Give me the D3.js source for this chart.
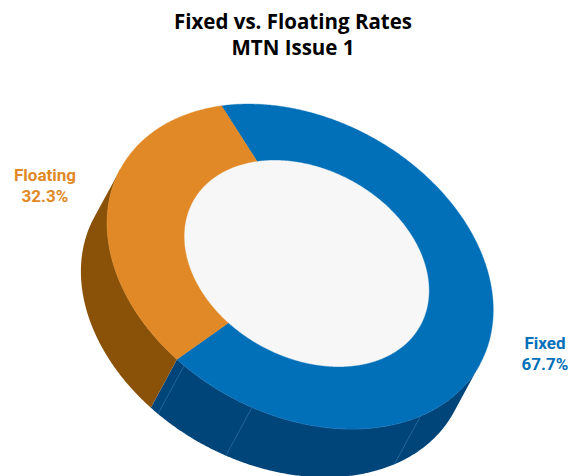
<!DOCTYPE html>
<html>
<head>
<meta charset="utf-8">
<script src="https://cdn.jsdelivr.net/npm/d3@7"></script>
<style>
  html, body { margin: 0; padding: 0; background: #ffffff; }
  svg { display: block; }
</style>
</head>
<body>
<svg id="chart" width="571" height="476"></svg>
<script>
// Share of MTN Issue 1 by rate type
const categories = ["Fixed", "Floating"];
const shares = [67.7, 32.3];
const shareLabels = ["67.7%", "32.3%"];
const titleLines = ["Fixed vs. Floating Rates", "MTN Issue 1"];

const topColors = ["#0270b8", "#e08926"];
const sideColors = ["#00457a", "#8a5208"];
const seamColors = ["#3f82bd", "#b97a2c"];

const svg = d3.select("#chart");

// Tilted donut: outer and inner rim ellipses (screen space), rim rotation and wall depth
const deg = Math.PI / 180;
const rot = 28.5 * deg;
const cosR = Math.cos(rot), sinR = Math.sin(rot);
const outerRing = { cx: 300.2, cy: 266.5, a: 204.5, b: 147.8 };
const innerRing = { cx: 306.7, cy: 263.5, a: 129.7, b: 94.4 };
const depth = 55;
const ext = [-depth * sinR, depth * cosR];
const startAngle = 224.5 * deg;

function pt(ring, phi, dz) {
  const x = ring.a * Math.cos(phi), y = ring.b * Math.sin(phi);
  const k = dz || 0;
  return [ring.cx + x * cosR - y * sinR + ext[0] * k,
          ring.cy + x * sinR + y * cosR + ext[1] * k];
}
function arcPts(ring, a0, a1, dz) {
  const n = Math.max(2, Math.ceil(Math.abs(a1 - a0) / (0.5 * deg)));
  return d3.range(n + 1).map(i => pt(ring, a0 + (a1 - a0) * i / n, dz));
}
const line = d3.line();
const closed = pts => line(pts) + "Z";

const pie = d3.pie().sort(null).value(d => d)
  .startAngle(startAngle).endAngle(startAngle + 2 * Math.PI);
const arcs = pie(shares);

// Visible (front) part of the outer wall: parametric angles in [2πk, 2πk + π]
function frontSpans(a0, a1) {
  const spans = [];
  for (let k = -1; k <= 2; k++) {
    const lo = Math.max(a0, 2 * Math.PI * k), hi = Math.min(a1, 2 * Math.PI * k + Math.PI);
    if (hi > lo) spans.push([lo, hi]);
  }
  return spans;
}

const gWalls = svg.append("g");
const gTop = svg.append("g");

arcs.forEach((d, i) => {
  frontSpans(d.startAngle, d.endAngle).forEach(([lo, hi]) => {
    const topEdge = arcPts(outerRing, lo, hi, 0);
    const botEdge = arcPts(outerRing, hi, lo, 1);
    gWalls.append("path")
      .attr("d", closed(topEdge.concat(botEdge)))
      .attr("fill", sideColors[i]);
    // light rim where the wall meets the top face
    gWalls.append("path")
      .attr("d", line(topEdge))
      .attr("fill", "none")
      .attr("stroke", seamColors[i])
      .attr("stroke-width", 0.9)
      .attr("opacity", 0.8);
  });
});

// Faint seams between wall panels of the fixed-rate slice
const seamAngles = [30 * deg, 83 * deg, arcs[0].endAngle - 2 * Math.PI - 2.7 * deg];
seamAngles.forEach(phi => {
  gWalls.append("path")
    .attr("d", line([pt(outerRing, phi, 0), pt(outerRing, phi, 1)]))
    .attr("stroke", seamColors[0])
    .attr("stroke-width", 0.7)
    .attr("opacity", 0.75);
});

// Hole
gTop.append("path")
  .attr("d", closed(arcPts(innerRing, 0, 2 * Math.PI, 0)))
  .attr("fill", "#f7f7f7");

// Top faces
arcs.forEach((d, i) => {
  const outerEdge = arcPts(outerRing, d.startAngle, d.endAngle, 0);
  const innerEdge = arcPts(innerRing, d.endAngle, d.startAngle, 0);
  gTop.append("path")
    .attr("d", closed(outerEdge.concat(innerEdge)))
    .attr("fill", topColors[i])
    .attr("stroke", topColors[i])
    .attr("stroke-width", 0.4);
});

// Data labels
const labelPos = [[545, 349], [45, 181]];
const labels = svg.append("g")
  .attr("font-family", "Roboto, sans-serif")
  .attr("font-weight", 700)
  .attr("font-size", 17)
  .attr("text-anchor", "middle");
categories.forEach((c, i) => {
  const t = labels.append("text")
    .attr("x", labelPos[i][0]).attr("y", labelPos[i][1])
    .attr("fill", topColors[i]);
  t.append("tspan").attr("x", labelPos[i][0]).text(c);
  t.append("tspan").attr("x", labelPos[i][0]).attr("dy", 21).text(shareLabels[i]);
});

// Title, one text element per line
svg.append("g")
  .attr("font-family", "'Open Sans', sans-serif")
  .attr("font-weight", 700)
  .attr("font-size", 20.5)
  .attr("text-anchor", "middle")
  .attr("fill", "#000000")
  .selectAll("text")
  .data(titleLines)
  .join("text")
  .attr("x", 293)
  .attr("y", (d, i) => 29 + i * 26)
  .text(d => d);
</script>
</body>
</html>
